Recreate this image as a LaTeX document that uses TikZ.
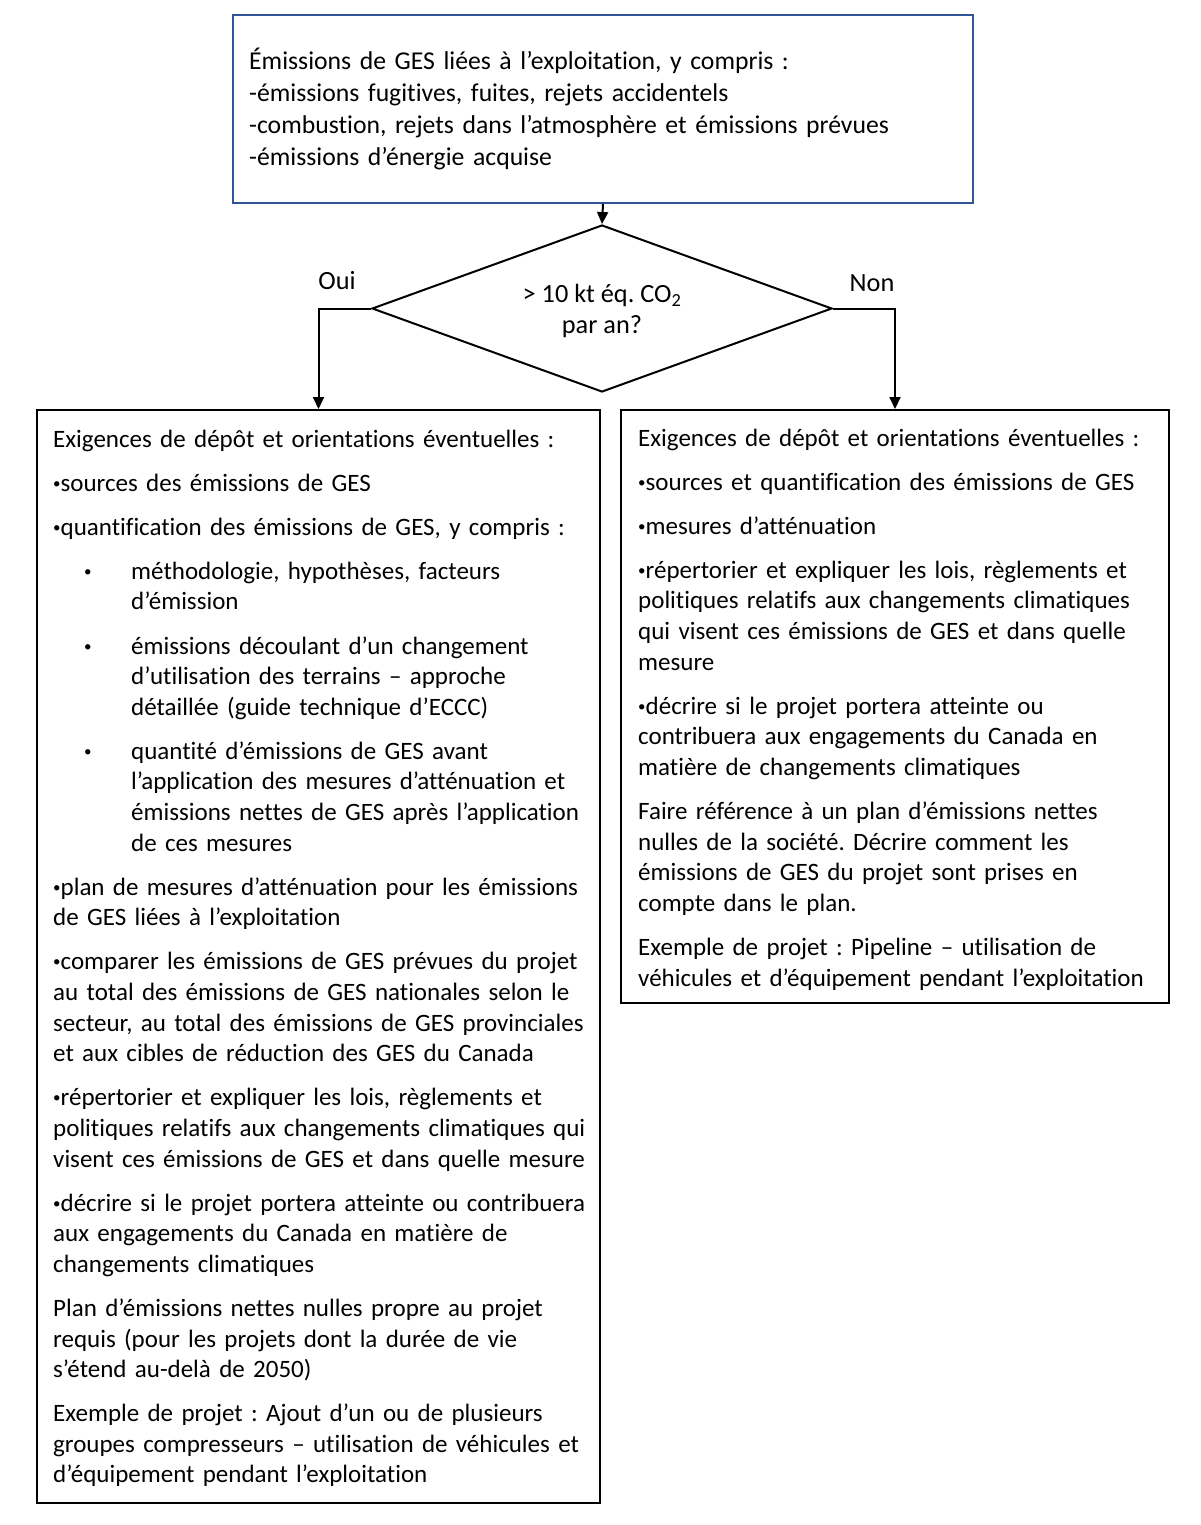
\documentclass[tikz,border=0pt]{standalone}
\usepackage{fontspec}
\setmainfont{Carlito}[Ligatures={NoCommon}]
\usetikzlibrary{shapes.geometric,arrows.meta,calc}
\definecolor{topblue}{HTML}{2F5597}
\frenchspacing
\newcommand{\bul}{\raisebox{3pt}{\fontsize{15}{15}\selectfont •}}
\newcommand{\myitem}[1]{\hspace*{31pt}\makebox[47pt][l]{\bul}#1}
\newcommand{\contline}[1]{\hspace*{78pt}#1}
\tikzset{
  txt/.style={font=\fontsize{25}{30.6}\selectfont, text width=700pt, align=left, inner sep=0pt, anchor=base west},
  toptxt/.style={txt, font=\fontsize{25.7}{32}\selectfont},
  box/.style={draw=black, line width=2pt, inner sep=0pt, rectangle},
  arr/.style={line width=2pt, -{Triangle[length=12pt,width=11pt]}},
  lbl/.style={font=\fontsize{26.3}{30}\selectfont, inner sep=0pt},
}
\begin{document}
\begin{tikzpicture}[x=1pt,y=-1pt]
\fill[white] (0,0) rectangle (1200,1525);
\useasboundingbox (0,0) rectangle (1200,1525);

\node[box, draw=topblue, minimum width=740pt, minimum height=188pt] (top) at (603,109) {};
\node[toptxt] (toptext) at (249,70) {Émissions de GES liées à l’exploitation, y compris :\\
-émissions fugitives, fuites, rejets accidentels\\
-combustion, rejets dans l’atmosphère et émissions prévues\\
-émissions d’énergie acquise};

\node[diamond, draw=black, line width=2pt, minimum width=460pt, minimum height=167pt, inner sep=0pt] (dec) at (602,308.5) {};
\node[lbl, align=center, font=\fontsize{26.3}{31}\selectfont] (dectext) at (602,311) {> 10 kt éq. CO\textsubscript{2}\\par an?};

\node[box, minimum width=563pt, minimum height=1093pt] (yes) at (318.5,956.5) {};
\node[box, minimum width=548pt, minimum height=593pt] (no) at (895,706.5) {};

\node[lbl] (oui) at (337,281) {Oui};
\node[lbl] (non) at (872,283) {Non};

\draw[arr] (top.south) -- (dec.north);
\draw[arr] (dec.west) -| (yes.north);
\draw[arr] (dec.east) -| (no.north);

\node[txt] (yestext) at (53,447) {Exigences de dépôt et orientations éventuelles :\\[13.5pt]
\bul sources des émissions de GES\\[13.5pt]
\bul quantification des émissions de GES, y compris :\\[13.5pt]
\myitem{méthodologie, hypothèses, facteurs}\\
\contline{d’émission}\\[13.5pt]
\myitem{émissions découlant d’un changement}\\
\contline{d’utilisation des terrains – approche}\\
\contline{détaillée (guide technique d’ECCC)}\\[13.5pt]
\myitem{quantité d’émissions de GES avant}\\
\contline{l’application des mesures d’atténuation et}\\
\contline{émissions nettes de GES après l’application}\\
\contline{de ces mesures}\\[13.5pt]
\bul plan de mesures d’atténuation pour les émissions\\
de GES liées à l’exploitation\\[13.5pt]
\bul comparer les émissions de GES prévues du projet\\
au total des émissions de GES nationales selon le\\
secteur, au total des émissions de GES provinciales\\
et aux cibles de réduction des GES du Canada\\[13.5pt]
\bul répertorier et expliquer les lois, règlements et\\
politiques relatifs aux changements climatiques qui\\
visent ces émissions de GES et dans quelle mesure\\[13.5pt]
\bul décrire si le projet portera atteinte ou contribuera\\
aux engagements du Canada en matière de\\
changements climatiques\\[13.5pt]
Plan d’émissions nettes nulles propre au projet\\
requis (pour les projets dont la durée de vie\\
s’étend au-delà de 2050)\\[13.5pt]
Exemple de projet : Ajout d’un ou de plusieurs\\
groupes compresseurs – utilisation de véhicules et\\
d’équipement pendant l’exploitation};

\node[txt] (notext) at (638,446) {Exigences de dépôt et orientations éventuelles :\\[13.5pt]
\bul sources et quantification des émissions de GES\\[13.5pt]
\bul mesures d’atténuation\\[13.5pt]
\bul répertorier et expliquer les lois, règlements et\\
politiques relatifs aux changements climatiques\\
qui visent ces émissions de GES et dans quelle\\
mesure\\[13.5pt]
\bul décrire si le projet portera atteinte ou\\
contribuera aux engagements du Canada en\\
matière de changements climatiques\\[13.5pt]
Faire référence à un plan d’émissions nettes\\
nulles de la société. Décrire comment les\\
émissions de GES du projet sont prises en\\
compte dans le plan.\\[13.5pt]
Exemple de projet : Pipeline – utilisation de\\
véhicules et d’équipement pendant l’exploitation};
\end{tikzpicture}
\end{document}
